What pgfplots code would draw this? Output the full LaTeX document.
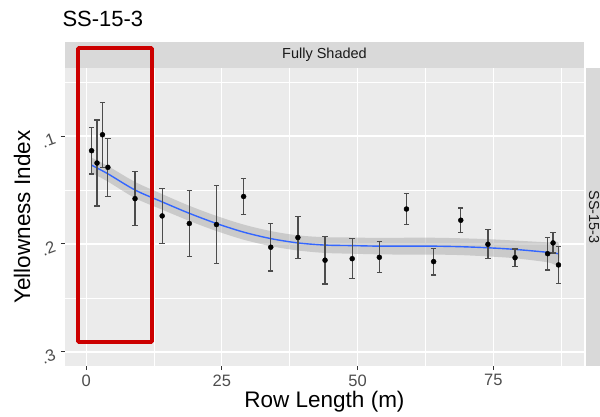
\documentclass[border=0pt]{standalone}
\usepackage{pgfplots}
\pgfplotsset{compat=1.18}
\usepackage{pgfplotstable}
\usepackage{fontspec}
\setmainfont{Liberation Sans}
\definecolor{panelbg}{HTML}{EBEBEB}
\definecolor{stripbg}{HTML}{D9D9D9}
\definecolor{tickcol}{HTML}{4D4D4D}
\definecolor{tickline}{HTML}{333333}
\definecolor{smoothblue}{HTML}{3366FF}
\definecolor{annred}{HTML}{CC0000}

\pgfplotstableread{
x  y      e
1  0.1136 0.0215
2  0.125  0.0398
3  0.0988 0.0302
4  0.129  0.027
9  0.158  0.025
14 0.174  0.0255
19 0.181  0.0305
24 0.182  0.036
29 0.156  0.017
34 0.203  0.022
39 0.194  0.0195
44 0.215  0.022
49 0.2136 0.0185
54 0.2123 0.0143
59 0.1676 0.0145
64 0.2163 0.0125
69 0.178  0.0114
74 0.2003 0.0135
79 0.2127 0.008
85 0.209  0.015
86 0.199  0.0094
87 0.2194 0.0172
}\pts

\pgfplotstableread{
x  y
1  0.127
4  0.135
9  0.150
14 0.161
19 0.1716
24 0.181
29 0.189
34 0.195
39 0.199
44 0.201
49 0.2015
54 0.202
59 0.202
64 0.202
69 0.2025
74 0.2035
79 0.205
85 0.2077
87 0.209
}\smoothfit

\begin{document}
\begin{tikzpicture}
% facet strips
\fill[stripbg] (65pt,348pt) rectangle (584pt,374pt);
\node[text=black!90, font=\fontsize{14.5}{17}\selectfont] at (324.5pt,361pt) {Fully Shaded};
\fill[stripbg] (586pt,50pt) rectangle (600pt,348pt);
\begin{scope}
\clip (586pt,40pt) rectangle (600pt,360pt);
\node[rotate=-90, text=black!90, font=\fontsize{14.5}{17}\selectfont] at (594pt,199pt) {SS-15-3};
\end{scope}
\begin{axis}[
  at={(65pt,50pt)}, anchor=south west, scale only axis,
  width=519pt, height=298pt,
  xmin=-3.9, xmax=91.7, ymin=0.037, ymax=0.313, y dir=reverse,
  axis background/.style={fill=panelbg},
  axis line style={draw=none},
  xtick={0,25,50,75}, minor xtick={12.5,37.5,62.5,87.5},
  ytick={0.1,0.2,0.3}, yticklabels={.1,.2,.3}, minor ytick={0.05,0.15,0.25},
  grid=both,
  major grid style={white, line width=1.1pt},
  minor grid style={white, line width=0.55pt},
  tick align=outside, major tick length=4pt, minor tick length=0pt,
  tick style={color=tickline, line width=1pt},
  xtick pos=bottom, ytick pos=left,
  /pgf/number format/assume math mode=true,
  xticklabel style={font=\fontsize{16.5}{19}\selectfont, text=tickcol, yshift=-1pt},
  yticklabel style={font=\fontsize{16.5}{19}\selectfont, text=tickcol, rotate=20, anchor=east, xshift=-3pt},
]
\addplot[fill=black!40, fill opacity=0.4, draw=none, smooth] coordinates {
 (1,0.134) (4,0.1422) (9,0.1575) (14,0.1682) (19,0.1786) (24,0.188) (29,0.196)
 (34,0.202) (39,0.206) (44,0.2083) (49,0.209) (54,0.2096) (59,0.2098) (64,0.2098)
 (69,0.2103) (74,0.2115) (79,0.2132) (85,0.2169) (87,0.219)
 (87,0.199) (85,0.1985) (79,0.1968) (74,0.1955) (69,0.1947) (64,0.1942) (59,0.1942)
 (54,0.1944) (49,0.194) (44,0.1937) (39,0.192) (34,0.188) (29,0.182) (24,0.174)
 (19,0.1646) (14,0.1538) (9,0.1425) (4,0.1278) (1,0.120)} -- cycle;
\addplot[smoothblue, line width=1.4pt, smooth] table[x=x, y=y] {\smoothfit};
\addplot[only marks, mark=*, mark size=2.5pt, black,
  error bars/.cd, y dir=both, y explicit,
  error bar style={black!70, line width=1.2pt},
  error mark options={black!70, line width=1.2pt, mark size=2.7pt, rotate=90}]
  table[x=x, y=y, y error=e] {\pts};
\end{axis}
% titles
\node[anchor=base west, font=\fontsize{22}{26}\selectfont] at (59pt,389pt) {SS-15-3};
\node[font=\fontsize{22.5}{26}\selectfont] at (324.5pt,14pt) {Row Length (m)};
\node[rotate=90, font=\fontsize{22.5}{26}\selectfont] at (22pt,199pt) {Yellowness Index};
% annotation box
\draw[annred, line width=3.6pt, rounded corners=1pt] (78pt,74pt) rectangle (152pt,368pt);
\path[use as bounding box] (0pt,0pt) rectangle (600pt,416pt);
\end{tikzpicture}
\end{document}
